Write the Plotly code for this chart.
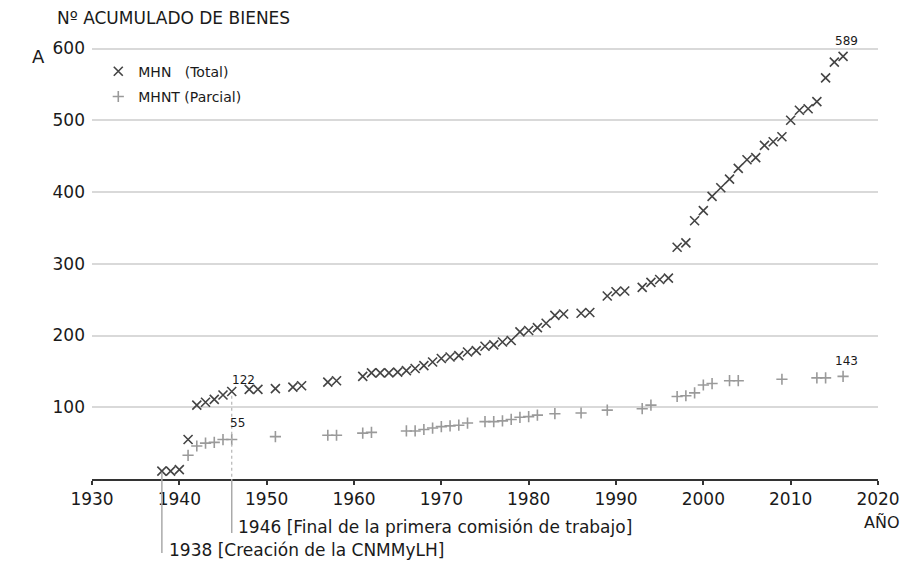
import plotly.graph_objects as go

# ---- data ----
mhn_years = [1938, 1939, 1940, 1941, 1942, 1943, 1944, 1945, 1946, 1948, 1949, 1951,
             1953, 1954, 1957, 1958, 1961, 1962, 1963, 1964, 1965, 1966, 1967, 1968,
             1969, 1970, 1971, 1972, 1973, 1974, 1975, 1976, 1977, 1978, 1979, 1980,
             1981, 1982, 1983, 1984, 1986, 1987, 1989, 1990, 1991, 1993, 1994, 1995,
             1996, 1997, 1998, 1999, 2000, 2001, 2002, 2003, 2004, 2005, 2006, 2007,
             2008, 2009, 2010, 2011, 2012, 2013, 2014, 2015, 2016]
mhn_values = [11, 11, 13, 55, 103, 107, 111, 117, 122, 125, 125, 126,
              128, 130, 135, 137, 143, 148, 148, 148, 149, 151, 154, 158,
              163, 168, 170, 172, 177, 179, 185, 187, 191, 193, 205, 207,
              211, 217, 228, 230, 231, 232, 255, 261, 262, 267, 274, 278,
              280, 323, 329, 360, 374, 394, 406, 418, 433, 445, 448, 465,
              470, 477, 500, 514, 516, 526, 559, 581, 589]

mhnt_years = [1941, 1942, 1943, 1944, 1945, 1946, 1951, 1957, 1958, 1961, 1962, 1966,
              1967, 1968, 1969, 1970, 1971, 1972, 1973, 1975, 1976, 1977, 1978, 1979,
              1980, 1981, 1983, 1986, 1989, 1993, 1994, 1997, 1998, 1999, 2000, 2001,
              2003, 2004, 2009, 2013, 2014, 2016]
mhnt_values = [33, 46, 50, 51, 55, 55, 59, 61, 61, 64, 65, 67,
               67, 69, 71, 73, 74, 75, 78, 80, 80, 81, 83, 86,
               87, 89, 91, 92, 96, 98, 103, 115, 116, 120, 131, 133,
               137, 137, 139, 141, 141, 143]

x_ticks = [1930, 1940, 1950, 1960, 1970, 1980, 1990, 2000, 2010, 2020]
y_ticks = [100, 200, 300, 400, 500, 600]

milestones = [(1938, "1938 [Creación de la CNMMyLH]"),
              (1946, "1946 [Final de la primera comisión de trabajo]")]

FONT = "DejaVu Sans"
DARK = "#444444"
LIGHT = "#9a9a9a"
TXT = "#1a1a1a"

# page body has an 8px margin; plot area sits at page px x 92..880, y 32..479
PL, PR, PT, PB = 92, 880, 32, 479


def px_x(p):
    return (p - PL) / (PR - PL)


def px_y(p):
    return (PB - p) / (PB - PT)


fig = go.Figure()
fig.add_trace(go.Scatter(
    x=mhn_years, y=mhn_values, mode="markers", name="MHN\u00a0\u00a0\u00a0(Total)",
    legendgroup="a",
    marker=dict(symbol="x-thin", size=9, color=DARK, line=dict(color=DARK, width=1.6)),
    cliponaxis=False))
fig.add_trace(go.Scatter(
    x=mhnt_years, y=mhnt_values, mode="markers", name="MHNT (Parcial)",
    legendgroup="b",
    marker=dict(symbol="cross-thin", size=8, color=LIGHT, line=dict(color=LIGHT, width=1.6)),
    cliponaxis=False))

# milestone guide lines
m38, m46 = milestones[0][0], milestones[1][0]
fig.add_shape(type="line", xref="x", yref="y", x0=m38, x1=m38, y0=9, y1=0,
              line=dict(color="#aaaaaa", width=1.5))
fig.add_shape(type="line", xref="x", yref="paper", x0=m38, x1=m38, y0=0, y1=px_y(553),
              line=dict(color="#aaaaaa", width=1.5))
fig.add_shape(type="line", xref="x", yref="y", x0=m46, x1=m46, y0=116, y1=0,
              line=dict(color="#b5b5b5", width=1.2, dash="dot"))
fig.add_shape(type="line", xref="x", yref="paper", x0=m46, x1=m46, y0=0, y1=px_y(533),
              line=dict(color="#aaaaaa", width=1.5))

annos = []
annos.append(dict(x=m38, y=px_y(550), xref="x", yref="paper", text=milestones[0][1],
                  xanchor="left", yanchor="middle", xshift=5, showarrow=False,
                  font=dict(size=17, color=TXT, family=FONT)))
annos.append(dict(x=m46, y=px_y(527), xref="x", yref="paper", text=milestones[1][1],
                  xanchor="left", yanchor="middle", xshift=4, showarrow=False,
                  font=dict(size=17, color=TXT, family=FONT)))
# value labels
for xv, yv, txt, xs, ys in [(1946, 122, "122", 12, 2), (1946, 55, "55", 6, 8),
                            (2016, 589, "589", 3, 6), (2016, 143, "143", 3, 6)]:
    annos.append(dict(x=xv, y=yv, xref="x", yref="y", text=txt, showarrow=False,
                      xanchor="center", yanchor="bottom", xshift=xs, yshift=ys,
                      font=dict(size=12, color=TXT, family=FONT)))
annos.append(dict(x=px_x(55), y=px_y(18), xref="paper", yref="paper",
                  text="Nº ACUMULADO DE BIENES", showarrow=False, xanchor="left", yanchor="middle",
                  font=dict(size=17, color=TXT, family=FONT)))
annos.append(dict(x=2020, y=px_y(522), xref="x", yref="paper", text="AÑO", showarrow=False,
                  xanchor="center", yanchor="middle", xshift=4,
                  font=dict(size=16, color=TXT, family=FONT)))
annos.append(dict(x=px_x(38), y=px_y(57), xref="paper", yref="paper", text="A", showarrow=False,
                  xanchor="center", yanchor="middle", font=dict(size=18, color=TXT, family=FONT)))

fig.update_layout(
    width=904, height=554,
    margin=dict(l=PL - 8, r=912 - PR, t=PT - 8, b=562 - PB),
    paper_bgcolor="white", plot_bgcolor="white",
    font=dict(family=FONT, color=TXT),
    showlegend=True,
    legend=dict(x=0.008, y=0.947, xanchor="left", yanchor="top", bgcolor="rgba(0,0,0,0)",
                traceorder="grouped", tracegroupgap=4,
                font=dict(size=14, color=TXT, family=FONT)),
    annotations=annos,
)
fig.update_xaxes(range=[1930, 2020], tickvals=x_ticks, showgrid=False, zeroline=False,
                 showline=True, linecolor="#333333", linewidth=2,
                 ticks="outside", ticklen=4, tickwidth=1.5, tickcolor="#333333",
                 tickfont=dict(size=17, color=TXT, family=FONT))
fig.update_yaxes(range=[0, 623], tickvals=y_ticks, showgrid=True, gridcolor="#d9d9d9", gridwidth=1.5,
                 zeroline=False, showline=False, ticks="", ticklabelstandoff=6,
                 tickfont=dict(size=17, color=TXT, family=FONT))

fig.write_html("out.html")
